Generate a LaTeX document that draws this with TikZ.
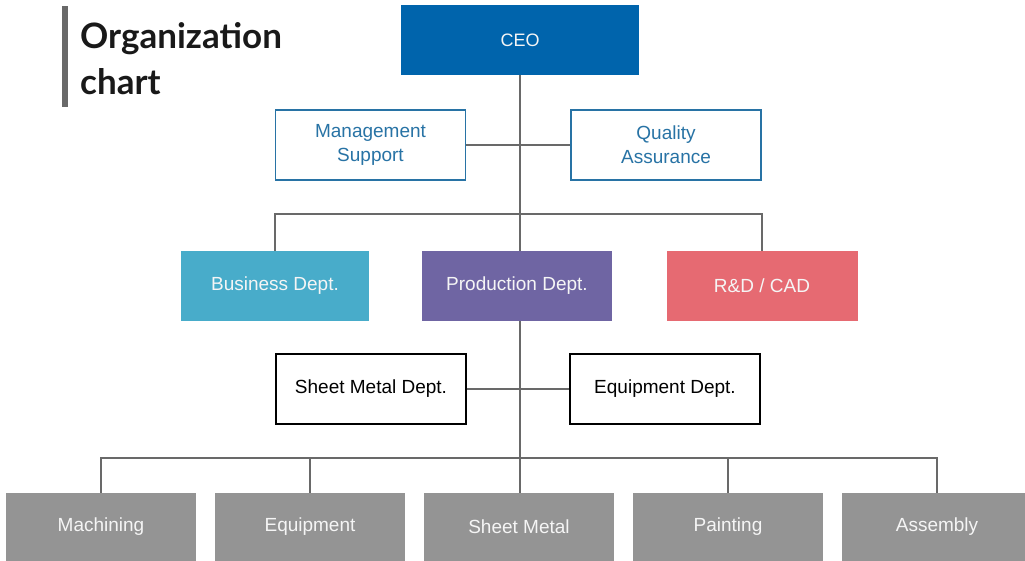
\documentclass[tikz,border=0pt]{standalone}
\usepackage{fontspec}
\setmainfont{Liberation Sans}
\newfontfamily\titlefont{Lato}
\definecolor{ceoblue}{RGB}{0,100,172}
\definecolor{msblue}{RGB}{40,115,165}
\definecolor{busc}{RGB}{72,172,202}
\definecolor{prodc}{RGB}{111,101,163}
\definecolor{rdc}{RGB}{230,106,114}
\definecolor{botg}{RGB}{148,148,148}
\definecolor{linec}{RGB}{105,105,105}
\definecolor{titlec}{RGB}{25,25,25}
\tikzset{
  box/.style={minimum width=190pt,minimum height=70pt,inner sep=0pt,align=center,
    font=\fontsize{19}{24}\selectfont},
  filledbox/.style={box,fill=#1,text=white!96!black},
  outlinebox/.style={box,draw=#1,line width=1.3pt,text=#1,fill=white},
  conn/.style={draw=linec,line width=1.3pt},
  titletext/.style={anchor=base west,inner sep=0pt,text=titlec,
    font=\titlefont\bfseries\fontsize{35}{40}\selectfont},
}
\begin{document}
\begin{tikzpicture}[x=1pt,y=-1pt]
\useasboundingbox (0,0) rectangle (1025,560);
\begin{scope}
\clip (0,0) rectangle (1025,560);
% title
\fill[linec] (62,6) rectangle (68,107);
\node[titletext] (t1) at (80,48) {Organization};
\node[titletext] (t2) at (80,94) {chart};
% nodes
\node[filledbox=ceoblue,minimum width=238pt,font=\fontsize{18}{24}\selectfont] (ceo) at (520,40) {CEO};
\node[outlinebox=msblue] (ms) at (370.5,145) {Management\\Support};
\node[outlinebox=msblue] (qa) at (666,145) {Quality\\Assurance};
\node[filledbox=busc,minimum width=188pt] (bus) at (275,286) {Business Dept.};
\node[filledbox=prodc] (prod) at (517,286) {Production Dept.};
\node[filledbox=rdc,minimum width=191pt] (rd) at (762,286) {R\&D / CAD};
\node[outlinebox=black] (sm) at (371,389) {Sheet Metal Dept.};
\node[outlinebox=black] (eqd) at (665,389) {Equipment Dept.};
\node[filledbox=botg,minimum height=68pt] (b1) at (101,527) {Machining};
\node[filledbox=botg,minimum height=68pt] (b2) at (310,527) {Equipment};
\node[filledbox=botg,minimum height=68pt] (b3) at (519,527) {Sheet Metal};
\node[filledbox=botg,minimum height=68pt] (b4) at (728,527) {Painting};
\node[filledbox=botg,minimum height=68pt] (b5) at (937,527) {Assembly};
\coordinate (j1) at (520,214);
\coordinate (j2) at (520,458);
\end{scope}
% connectors
\draw[conn] (ceo.south) -- (j1);
\draw[conn] (ms.east) -- (qa.west);
\draw[conn] (bus.north) |- (j1) -| (rd.north);
\draw[conn] (j1) -- (j1 |- prod.north);
\draw[conn] (j1 |- prod.south) -- (j2);
\draw[conn] (sm.east) -- (eqd.west);
\draw[conn] (b1.north) |- (j2) -| (b5.north);
\draw[conn] (b2.north) -- (b2.north |- j2);
\draw[conn] (j2) -- (j2 |- b3.north);
\draw[conn] (b4.north) -- (b4.north |- j2);
\end{tikzpicture}
\end{document}
